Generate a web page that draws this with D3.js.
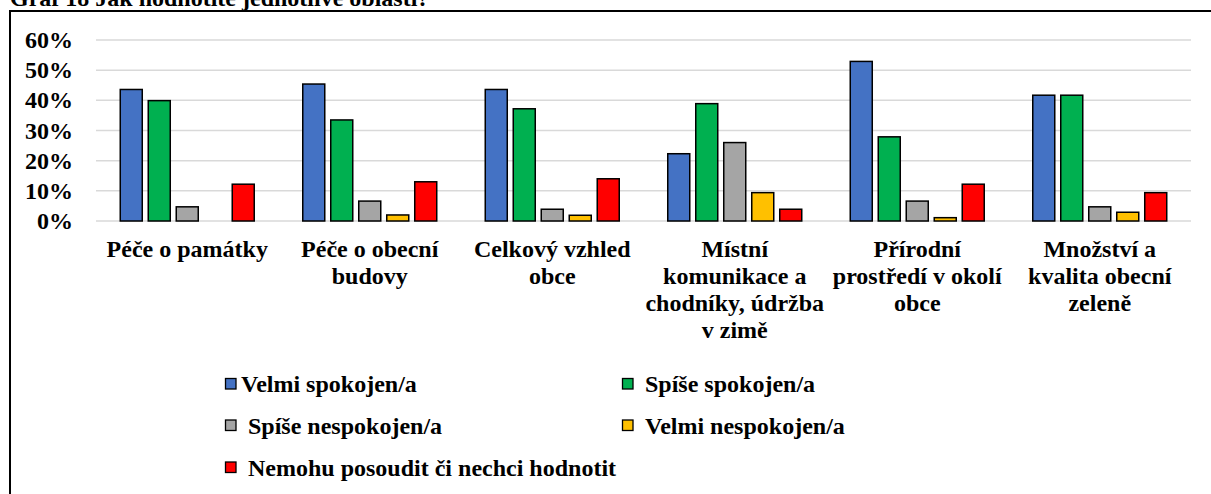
<!DOCTYPE html>
<html>
<head>
<meta charset="utf-8">
<script src="https://cdn.jsdelivr.net/npm/d3@7"></script>
</head>
<body style="margin:0">
<script>
// category labels, one line per array entry
var categories = [
    ["Péče o památky"],
    ["Péče o obecní", "budovy"],
    ["Celkový vzhled", "obce"],
    ["Místní", "komunikace a", "chodníky, údržba", "v zimě"],
    ["Přírodní", "prostředí v okolí", "obce"],
    ["Množství a", "kvalita obecní", "zeleně"]
];
var seriesNames = ["Velmi spokojen/a", "Spíše spokojen/a", "Spíše nespokojen/a", "Velmi nespokojen/a", "Nemohu posoudit či nechci hodnotit"];
var seriesColors = ["#4472C4", "#00B050", "#A5A5A5", "#FFC000", "#FF0000"];

// values in %, per series, in category order
var velmiSpokojen   = [43.6, 45.4, 43.6, 22.3, 52.9, 41.7];
var spiseSpokojen   = [39.9, 33.5, 37.2, 38.9, 27.9, 41.7];
var spiseNespokojen = [4.7, 6.6, 3.9, 26.0, 6.6, 4.7];
var velmiNespokojen = [0, 2.0, 1.9, 9.4, 1.1, 2.9];
var nemohu          = [12.2, 13.0, 14.0, 3.9, 12.2, 9.4];
var yTicks = [0, 10, 20, 30, 40, 50, 60];

var series = [velmiSpokojen, spiseSpokojen, spiseNespokojen, velmiNespokojen, nemohu];

var svg = d3.select("body").append("svg")
    .attr("width", 1211)
    .attr("height", 494);

// same font setup on every text
function serif(sel) {
    return sel.style("font-family", "'Liberation Serif'")
        .attr("font-weight", "bold")
        .attr("font-size", 24);
}

// title (clipped at the top in the original)
serif(svg.append("text"))
    .attr("x", 10)
    .attr("y", 6)
    .text("Graf 18 Jak hodnotíte jednotlivé oblasti?");

// frame
svg.append("rect")
    .attr("x", 10).attr("y", 11)
    .attr("width", 1230).attr("height", 520)
    .attr("fill", "none")
    .attr("stroke", "#000")
    .attr("stroke-width", 2);

var x0 = d3.scaleBand()
    .domain(d3.range(categories.length))
    .range([96, 1191])
    .paddingInner(0.233)
    .paddingOuter(0.1165);

var x1 = d3.scaleBand()
    .domain(d3.range(series.length))
    .range([0, x0.bandwidth()])
    .paddingInner(0.214)
    .paddingOuter(0.107);

var y = d3.scaleLinear()
    .domain([0, 60])
    .range([221, 40]);

// gridlines
svg.append("g")
    .selectAll("line")
    .data(yTicks)
    .enter().append("line")
    .attr("x1", 96).attr("x2", 1191)
    .attr("y1", function (d) { return y(d); })
    .attr("y2", function (d) { return y(d); })
    .attr("stroke", "#D9D9D9")
    .attr("stroke-width", 1.5);

// y axis labels
serif(svg.append("g")
    .selectAll("text")
    .data(yTicks)
    .enter().append("text"))
    .attr("x", 73)
    .attr("y", function (d) { return y(d) + 8; })
    .attr("text-anchor", "end")
    .text(function (d) { return d + "%"; });

// bars
var groups = svg.append("g")
    .selectAll("g")
    .data(categories)
    .enter().append("g")
    .attr("transform", function (d, i) { return "translate(" + x0(i) + ",0)"; });

groups.selectAll("rect")
    .data(function (d, i) {
        return series.map(function (s, j) { return { s: j, v: s[i] }; }).filter(function (e) { return e.v > 0; });
    })
    .enter().append("rect")
    .attr("x", function (d) { return x1(d.s); })
    .attr("y", function (d) { return y(d.v); })
    .attr("width", x1.bandwidth())
    .attr("height", function (d) { return y(0) - y(d.v); })
    .attr("fill", function (d) { return seriesColors[d.s]; })
    .attr("stroke", "#000")
    .attr("stroke-width", 1.5);

// category labels, one text per line
categories.forEach(function (lines, i) {
    serif(svg.append("g")
        .selectAll("text")
        .data(lines)
        .enter().append("text"))
        .attr("x", x0(i) + x0.bandwidth() / 2)
        .attr("y", function (d, k) { return 257 + k * 27; })
        .attr("text-anchor", "middle")
        .text(function (d) { return d; });
});

// legend: two columns, three rows
var legendCols = [225, 622];
var legendRows = [384, 425.5, 467.5];
var legend = svg.append("g")
    .selectAll("g")
    .data(seriesNames)
    .enter().append("g")
    .attr("transform", function (d, i) {
        return "translate(" + legendCols[i % 2] + "," + legendRows[Math.floor(i / 2)] + ")";
    });

legend.append("rect")
    .attr("x", 0.5).attr("y", -5.5)
    .attr("width", 10.5).attr("height", 10.5)
    .attr("fill", function (d, i) { return seriesColors[i]; })
    .attr("stroke", "#000")
    .attr("stroke-width", 1.3);

serif(legend.append("text"))
    .attr("x", function (d, i) { return i === 0 ? 16 : 23; })
    .attr("y", 8)
    .text(function (d) { return d; });
</script>
</body>
</html>
